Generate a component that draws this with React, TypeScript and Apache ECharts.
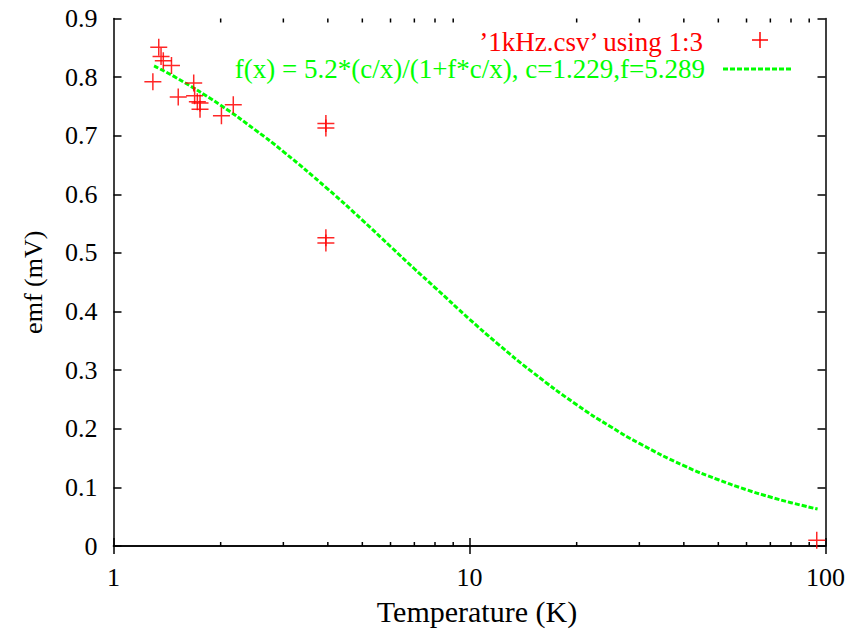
import React, { useEffect, useRef } from "react";
import * as echarts from "echarts";

// Measured points: temperature (K) and emf (mV)
const tempK = [1.29, 1.34, 1.36, 1.38, 1.455, 1.52, 1.68, 1.69, 1.72, 1.75, 1.75, 2.01, 2.17, 3.95, 3.95, 3.95, 3.95, 94.5];
const emfMV = [0.792, 0.851, 0.835, 0.828, 0.820, 0.766, 0.790, 0.768, 0.758, 0.756, 0.745, 0.734, 0.753, 0.721, 0.713, 0.526, 0.517, 0.010];

// Fitted curve
const fitX = [1.3, 1.5, 2, 2.5, 3, 4, 5, 6, 7, 8, 10, 12, 15, 20, 25, 30, 40, 50, 60, 70, 80, 95];
const fitY = [0.819, 0.799, 0.752, 0.710, 0.673, 0.609, 0.556, 0.511, 0.473, 0.441, 0.387, 0.345, 0.297, 0.241, 0.203, 0.175, 0.137, 0.113, 0.096, 0.0835, 0.0739, 0.063];

const minorTicksX = [2, 3, 4, 5, 6, 7, 8, 9, 20, 30, 40, 50, 60, 70, 80, 90];

const dataLabel = "\u20191kHz.csv\u2019 using 1:3";
const fitLabel = "f(x) = 5.2*(c/x)/(1+f*c/x), c=1.229,f=5.289";

const FONT = "'Liberation Serif', 'DejaVu Serif', serif";
const RED = "#ff0000";
const GREEN = "#00ff00";
const PLUS = "path://M7.3,0h1.4v7.3h7.3v1.4h-7.3v7.3h-1.4v-7.3h-7.3v-1.4h7.3z";

export default function App() {
  const ref = useRef<HTMLDivElement>(null);
  useEffect(() => {
    if (!ref.current) return;
    const chart = echarts.init(ref.current, null, { renderer: "svg" });
    const axisLine = { show: true, lineStyle: { color: "#000", width: 1.5 } };
    const label = { fontFamily: FONT, fontSize: 26, color: "#000" };
    const tick = { show: true, inside: true, length: 8, lineStyle: { color: "#000", width: 1.5 } };
    chart.setOption({
      animation: false,
      backgroundColor: "#fff",
      grid: { left: 113.5, right: 20.5, top: 18.5, bottom: 86, containLabel: false },
      xAxis: [
        {
          type: "log",
          logBase: 10,
          min: 1,
          max: 100,
          name: "Temperature (K)",
          nameLocation: "middle",
          nameGap: 50,
          nameTextStyle: { ...label, fontSize: 30, padding: [0, 0, 0, 15] },
          axisLine,
          axisTick: tick,
          axisLabel: { ...label, margin: 18 },
          splitLine: { show: false },
          minorTick: { show: false },
        },
        {
          type: "log",
          logBase: 10,
          min: 1,
          max: 100,
          position: "top",
          axisLine,
          axisTick: tick,
          axisLabel: { show: false },
          splitLine: { show: false },
        },
      ],
      yAxis: [
        {
          type: "value",
          min: 0,
          max: 0.9,
          interval: 0.1,
          name: "emf (mV)",
          nameLocation: "middle",
          nameGap: 67,
          nameTextStyle: { ...label },
          axisLine,
          axisTick: tick,
          axisLabel: { ...label, margin: 16 },
          splitLine: { show: false },
        },
        {
          type: "value",
          min: 0,
          max: 0.9,
          interval: 0.1,
          position: "right",
          axisLine,
          axisTick: tick,
          axisLabel: { show: false },
          splitLine: { show: false },
        },
      ],
      series: [
        {
          type: "custom",
          name: "minorTicks",
          xAxisIndex: 0,
          yAxisIndex: 0,
          silent: true,
          data: minorTicksX.map((v) => [v, 0]),
          renderItem: (params: any, api: any) => {
            const p = api.coord([api.value(0), 0]);
            const cs = params.coordSys;
            const x = p[0];
            const yb = cs.y + cs.height;
            const yt = cs.y;
            const style = { stroke: "#000", lineWidth: 1.5 };
            return {
              type: "group",
              children: [
                { type: "line", shape: { x1: x, y1: yb, x2: x, y2: yb - 4 }, style },
                { type: "line", shape: { x1: x, y1: yt, x2: x, y2: yt + 4 }, style },
              ],
            };
          },
        },
        {
          type: "line",
          name: fitLabel,
          data: fitX.map((x, i) => [x, fitY[i]]),
          smooth: true,
          showSymbol: false,
          lineStyle: { color: GREEN, width: 3, type: [5, 2] },
          z: 2,
        },
        {
          type: "scatter",
          name: dataLabel,
          data: tempK.map((x, i) => [x, emfMV[i]]),
          symbol: PLUS,
          symbolSize: 17,
          itemStyle: { color: RED, opacity: 0.85 },
          z: 3,
        },
      ],
      graphic: [
        {
          type: "text",
          right: 143,
          top: 28,
          style: { text: dataLabel, fill: RED, font: `27px ${FONT}` },
        },
        { type: "line", shape: { x1: 752, y1: 40, x2: 768, y2: 40 }, style: { stroke: RED, lineWidth: 1.5 } },
        { type: "line", shape: { x1: 760, y1: 32, x2: 760, y2: 48 }, style: { stroke: RED, lineWidth: 1.5 } },
        {
          type: "text",
          right: 143,
          top: 55,
          style: { text: fitLabel, fill: GREEN, font: `27px ${FONT}` },
        },
        {
          type: "line",
          shape: { x1: 723, y1: 69, x2: 793, y2: 69 },
          style: { stroke: GREEN, lineWidth: 3, lineDash: [5, 2] },
        },
      ],
    });
    return () => chart.dispose();
  }, []);
  return (
    <div
      ref={ref}
      style={{ position: "fixed", left: 0, top: 0, width: 848, height: 632, background: "#fff" }}
    />
  );
}
